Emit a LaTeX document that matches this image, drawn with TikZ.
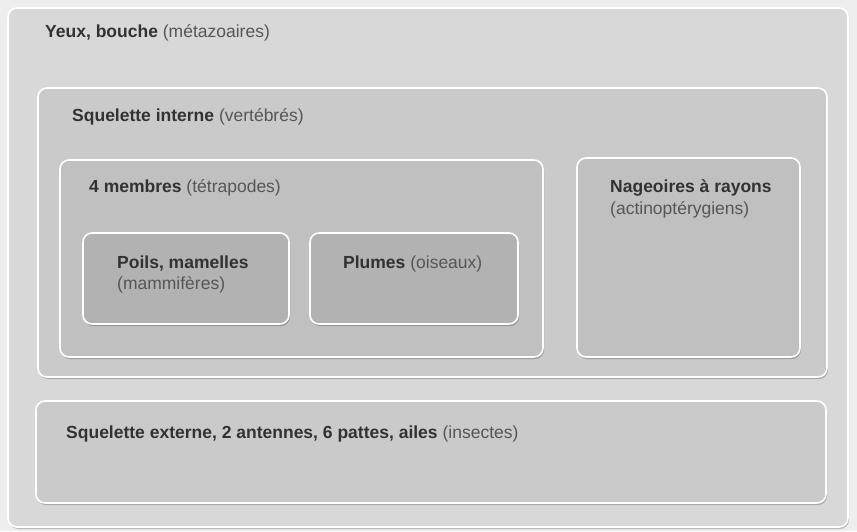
\documentclass[tikz,border=0pt]{standalone}
\usepackage{fontspec}
\setmainfont{Liberation Sans}
\usepackage{xcolor}
\usetikzlibrary{shadows}
\definecolor{paper}{RGB}{238,238,238}
\definecolor{greyone}{RGB}{216,216,216}
\definecolor{greytwo}{RGB}{202,202,202}
\definecolor{greythree}{RGB}{192,192,192}
\definecolor{greyfour}{RGB}{178,178,178}
\definecolor{inkdark}{RGB}{50,50,50}
\definecolor{inklight}{RGB}{86,86,86}
\tikzset{%
    box/.style={%
        draw=white, line width=1.6pt, rounded corners=9pt,
        drop shadow={shadow xshift=1pt, shadow yshift=-2pt, fill=black, opacity=0.22}
    },
    boxtext/.style={%
        anchor=base west, inner sep=0pt, text=inklight,
        font=\fontsize{17.5}{21}\selectfont
    }
}
\newcommand{\keyword}[1]{\textcolor{inkdark}{\bfseries #1}}

\begin{document}
\begin{tikzpicture}[x=1pt,y=-1pt]
    \fill[paper] (0,0) rectangle (857,531);
    \useasboundingbox (0,0) rectangle (857,531);
    \draw[box, fill=greyone, drop shadow={opacity=0}] (8,8) rectangle (848,527);
    \draw[box, fill=greytwo] (38,88) rectangle (827,377);
    \draw[box, fill=greytwo] (36,401) rectangle (826,503);
    \draw[box, fill=greythree] (60,160) rectangle (543,357);
    \draw[box, fill=greythree] (577,158) rectangle (800,357);
    \draw[box, fill=greyfour] (83,233) rectangle (289,324);
    \draw[box, fill=greyfour] (310,233) rectangle (518,324);
    \node[boxtext] (metazoa) at (45,37) {\keyword{Yeux, bouche} (métazoaires)};
    \node[boxtext] (vertebra) at (72,121) {\keyword{Squelette interne} (vertébrés)};
    \node[boxtext] (tetrapoda) at (89,192) {\keyword{4 membres} (tétrapodes)};
    \node[boxtext] (mammalia) at (117,268) {\keyword{Poils, mamelles}};
    \node[boxtext] (mammaliab) at (117,289) {(mammifères)};
    \node[boxtext] (aves) at (343,268) {\keyword{Plumes} (oiseaux)};
    \node[boxtext] (actino) at (610,192) {\keyword{Nageoires à rayons}};
    \node[boxtext] (actinob) at (610,214) {(actinoptérygiens)};
    \node[boxtext] (insecta) at (66,438) {\keyword{Squelette externe, 2 antennes, 6 pattes, ailes} (insectes)};
\end{tikzpicture}
\end{document}
